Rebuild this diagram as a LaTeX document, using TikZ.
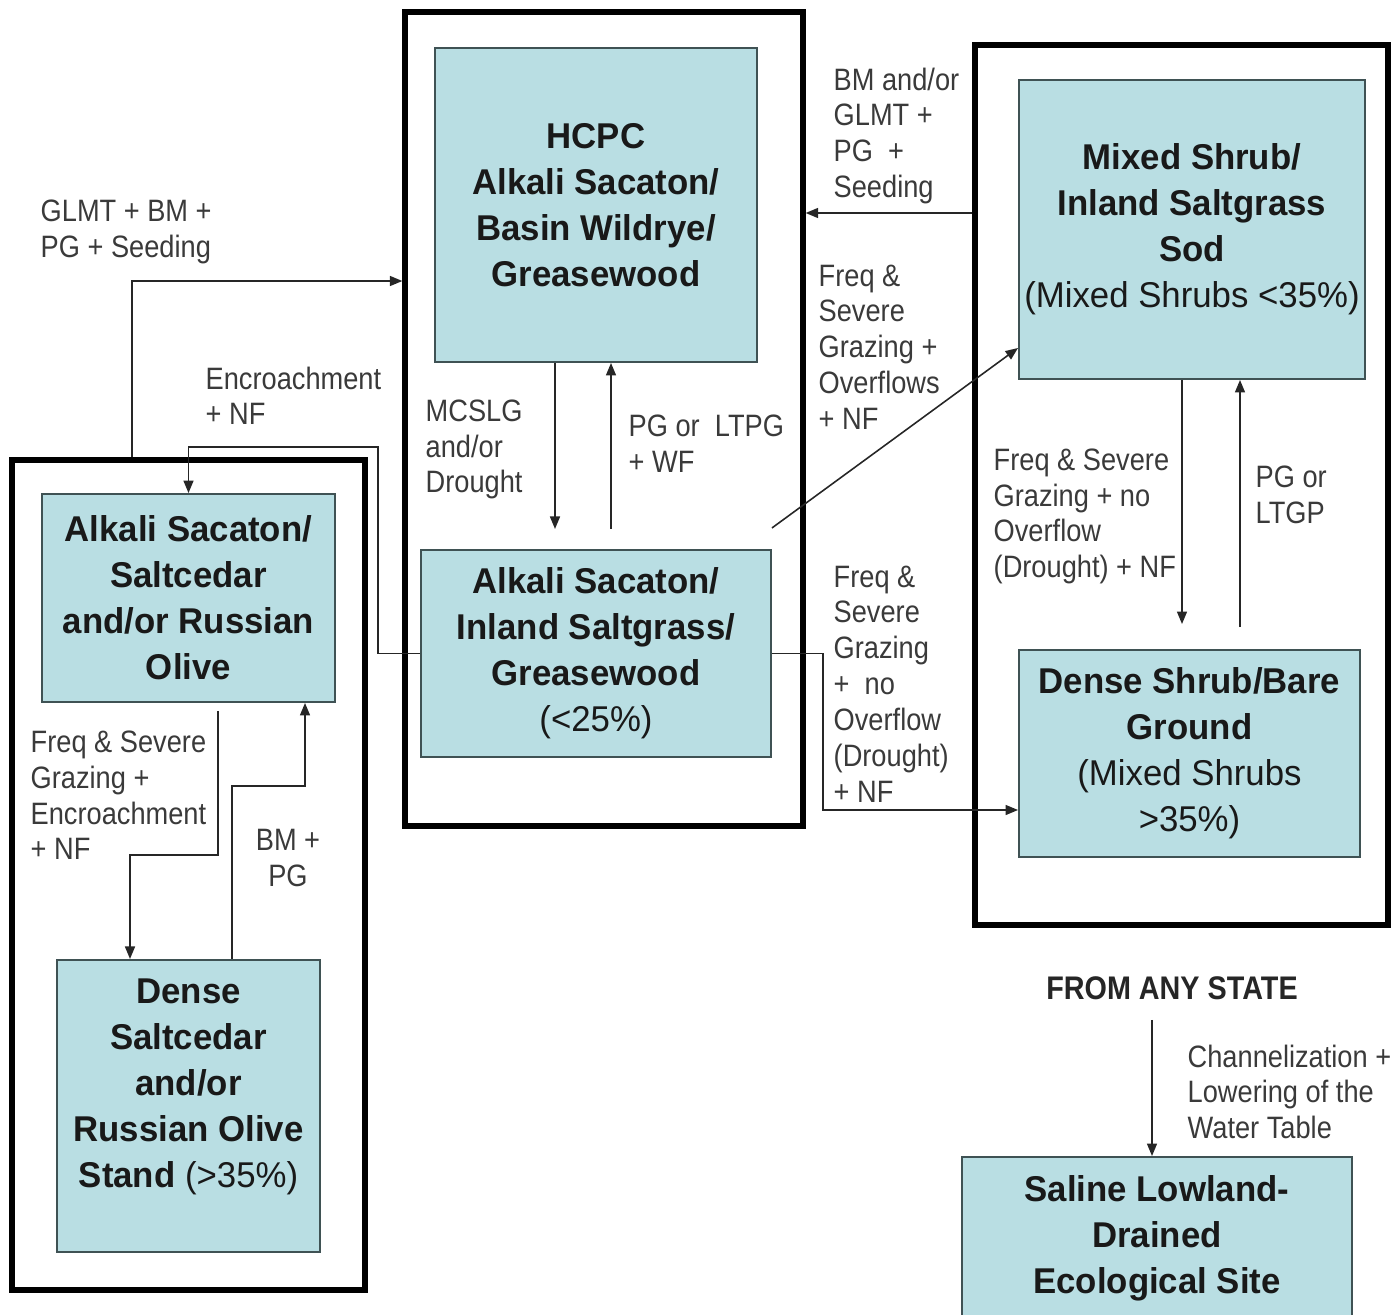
\documentclass[tikz,border=0pt]{standalone}
\usepackage{fontspec}
\setmainfont{Liberation Sans}
\newfontfamily\boxfont[FakeStretch=0.97]{Liberation Sans}
\newfontfamily\lblfont[FakeStretch=0.88]{Liberation Sans}
\usetikzlibrary{arrows.meta,positioning}
\definecolor{statefill}{HTML}{B9DEE3}
\definecolor{stateline}{HTML}{3F5254}
\definecolor{lbltext}{HTML}{3A3A3A}

\begin{document}
\begin{tikzpicture}[x=0.1mm, y=-0.1mm, >={Triangle[length=1.25mm,width=1mm]},
  state/.style={draw=stateline, line width=0.55pt, fill=statefill, inner sep=0pt, align=center, text=black!90,
    font=\boxfont\fontsize{10.2}{13.1}\selectfont\bfseries},
  group/.style={draw=black, line width=1.5pt, inner sep=0pt},
  lbl/.style={anchor=north west, inner sep=0pt, align=left, text=lbltext, font=\lblfont\fontsize{8.8}{10.2}\selectfont},
  link/.style={->, line width=0.45pt, draw=black!85}]
  \useasboundingbox (0,0) rectangle (1398,1315);

  \node[group, minimum width=39.8mm, minimum height=81.4mm] (grpc) at (604,419) {};
  \node[group, minimum width=41.3mm, minimum height=88mm] (grpr) at (1181.5,485) {};
  \node[group, minimum width=35.3mm, minimum height=83mm] (grpl) at (188.5,875) {};

  \node[state, minimum width=32.2mm, minimum height=31.4mm] (hcpc) at (596,205) {HCPC\\Alkali Sacaton/\\Basin Wildrye/\\Greasewood};
  \node[state, below=18.6mm of hcpc, minimum width=35mm, minimum height=20.7mm] (asig) {Alkali Sacaton/\\Inland Saltgrass/\\Greasewood\\{\mdseries(<25\%)}};
  \node[state, minimum width=34.6mm, minimum height=29.9mm] (mixed) at (1192,229.5) {Mixed Shrub/\\Inland Saltgrass\\Sod\\{\mdseries(Mixed Shrubs <35\%)}};
  \node[state, minimum width=34.1mm, minimum height=20.7mm] (dense) at (1189.5,753.5) {Dense Shrub/Bare\\Ground\\{\mdseries(Mixed Shrubs}\\{\mdseries>35\%)}};
  \node[state, minimum width=29.3mm, minimum height=20.8mm] (assr) at (188.5,598) {Alkali Sacaton/\\Saltcedar\\and/or Russian\\Olive};
  \node[state, below=25.6mm of assr, minimum width=26.3mm, minimum height=29.2mm] (saltc) {Dense\\Saltcedar\\and/or\\Russian Olive\\Stand {\mdseries(>35\%)}\\\mbox{}};
  \node[state, minimum width=39mm, minimum height=16.2mm] (saline) at (1157,1238) {Saline Lowland-\\Drained\\Ecological Site};

  \node[lbl] (lglmt) at (40,199) {GLMT + BM +\\PG + Seeding};
  \node[lbl] (lenc) at (205,366) {Encroachment\\+ NF};
  \node[lbl] (lmcslg) at (425,399) {MCSLG\\and/or\\Drought};
  \node[lbl] (lpgwf) at (628,414) {PG or~ LTPG\\+ WF};
  \node[lbl] (lbmgl) at (833,67) {BM and/or\\GLMT +\\PG~ +\\Seeding};
  \node[lbl] (lfsov) at (818,264) {Freq \&\\Severe\\Grazing +\\Overflows\\+ NF};
  \node[lbl] (lfsno) at (833,565) {Freq \&\\Severe\\Grazing\\+~ no\\Overflow\\(Drought)\\+ NF};
  \node[lbl] (lfsdr) at (993,448) {Freq \& Severe\\Grazing + no\\Overflow\\(Drought) + NF};
  \node[lbl] (lpgtp) at (1255,465) {PG or\\LTGP};
  \node[lbl] (lfsen) at (30,730) {Freq \& Severe\\Grazing +\\Encroachment\\+ NF};
  \node[lbl, anchor=north, align=center] (lbmpg) at (288,829) {BM +\\PG};
  \node[font=\lblfont\fontsize{9.3}{11}\selectfont\bfseries, text=black!85] (any) at (1172,988) {FROM ANY STATE};
  \node[lbl] (lchan) at (1187,1044) {Channelization +\\Lowering of the\\Water Table};

  \coordinate (glmt) at (132,281);
  \coordinate (bmgl) at (890,213);
  \coordinate (enc) at (378,447);
  \coordinate (mcs) at (555,450);
  \coordinate (pgwf) at (611,450);
  \coordinate (fsno) at (823,810);
  \coordinate (fsdr) at (1182,500);
  \coordinate (pgtp) at (1240,500);
  \coordinate (fsen) at (218,855);
  \coordinate (fsen2) at (130,855);
  \coordinate (bmpg) at (232,786);
  \coordinate (bmpg2) at (305,786);
  \coordinate (chan) at (1152,1100);

  \draw[link] (glmt |- grpl.north) -- (glmt) -- (glmt -| grpc.west);
  \draw[link] (bmgl -| grpr.west) -- (bmgl -| grpc.east);
  \draw[link] (asig.west) -| (enc) -| (assr.north);
  \draw[link, shorten >=2mm] (mcs |- hcpc.south) -- (mcs |- asig.north);
  \draw[link, shorten <=2mm] (pgwf |- asig.north) -- (pgwf |- hcpc.south);
  \draw[link] ([yshift=2.1mm]asig.north east) -- ([yshift=3.2mm]mixed.south west);
  \draw[link] (asig.east) -| (fsno) -- (fsno -| dense.west);
  \draw[link, shorten >=2.5mm] (fsdr |- mixed.south) -- (fsdr |- dense.north);
  \draw[link, shorten <=2.2mm] (pgtp |- dense.north) -- (pgtp |- mixed.south);
  \draw[link, shorten <=0.8mm] (fsen |- assr.south) -- (fsen) -- (fsen2) -- (fsen2 |- saltc.north);
  \draw[link] (bmpg |- saltc.north) -- (bmpg) -- (bmpg2) -- (bmpg2 |- assr.south);
  \draw[link, shorten <=0.8mm] (any.south -| chan) -- (chan |- saline.north);
\end{tikzpicture}
\end{document}
